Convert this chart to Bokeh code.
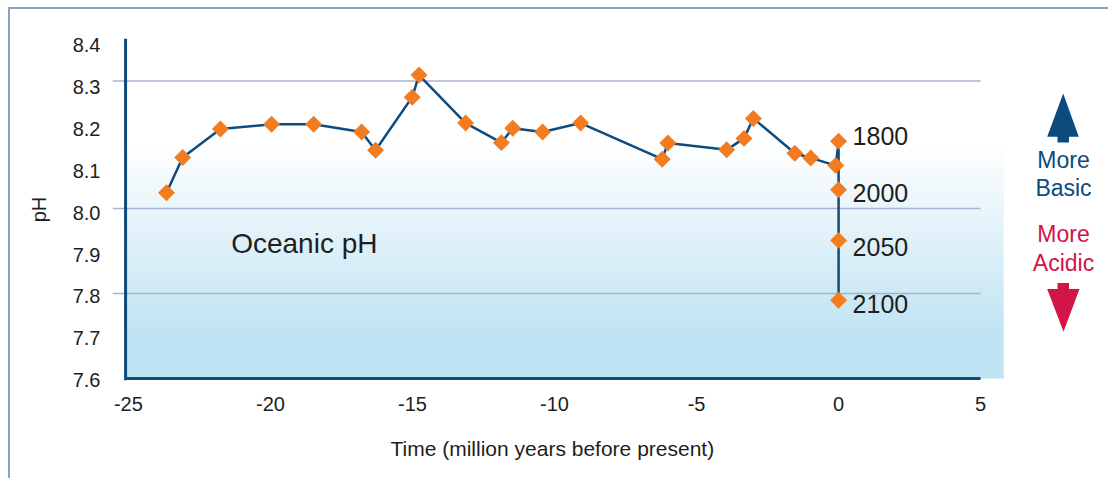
import numpy as np
from bokeh.plotting import figure
from bokeh.models import Range1d, FixedTicker, PrintfTickFormatter, ColumnDataSource, Title, LinearAxis
from bokeh.core.properties import value
from bokeh.embed import file_html
from bokeh.resources import INLINE

# ---------------- data ----------------
paleo_time = [-23.66, -23.09, -21.76, -19.96, -18.48, -16.79, -16.30, -15.01, -14.77,
              -13.13, -11.87, -11.47, -10.42, -9.08, -6.21, -6.01, -3.94, -3.33, -3.00,
              -1.54, -0.98, -0.10]
paleo_ph = [8.037, 8.120, 8.187, 8.198, 8.198, 8.180, 8.137, 8.262, 8.314,
            8.201, 8.155, 8.189, 8.180, 8.201, 8.116, 8.154, 8.138, 8.165, 8.212,
            8.130, 8.119, 8.101]
modern_years = ["1800", "2000", "2050", "2100"]
modern_time = [0, 0, 0, 0]
modern_ph = [8.158, 8.044, 7.925, 7.784]

x_ticks = [-25, -20, -15, -10, -5, 0, 5]
y_ticks = [7.6, 7.7, 7.8, 7.9, 8.0, 8.1, 8.2, 8.3, 8.4]
grid_levels = [8.3, 8.0, 7.8]

# ---------------- style ----------------
FONT = "Liberation Sans"
TXT = "#1e1e1e"
NAVY = "#0d4b7e"
ORANGE = "#f47c20"
CRIMSON = "#d31446"
GRID = "#a6b4cf"

W, H = 1100, 471
p = figure(width=W, height=H, output_backend="svg", toolbar_location=None,
           x_range=Range1d(-25.56, 9.22), y_range=Range1d(7.5953, 8.4),
           y_axis_location=None,
           min_border_left=102, min_border_right=10, min_border_top=29, min_border_bottom=98)
p.extra_y_ranges = {"ylab": Range1d(7.599, 8.4166), "pxy": Range1d(382, 38)}
p.extra_x_ranges = {"pxx": Range1d(112, 1100)}
p.outline_line_color = None
p.grid.grid_line_color = None
p.background_fill_color = "white"
p.border_fill_color = "white"
p.styles = {"border-top": "2px solid #88a4c4", "border-left": "2px solid #88a4c4",
            "margin-left": "8px", "margin-top": "7px"}

# gradient background
N = 400
ys = 7.6 + (np.arange(N) + 0.5) * (0.8 / N)
f = np.clip((8.15 - ys) / 0.45, 0, 1)
img = np.empty((N, 2), dtype=np.uint32)
view = img.view(dtype=np.uint8).reshape((N, 2, 4))
for j in range(2):
    view[:, j, 0] = (255 - f * (255 - 192)).astype(np.uint8)
    view[:, j, 1] = (255 - f * (255 - 228)).astype(np.uint8)
    view[:, j, 2] = (255 - f * (255 - 243)).astype(np.uint8)
    view[:, j, 3] = 255
p.image_rgba(image=[img], x=-25.1, y=7.6, dw=30.91, dh=0.8)

# grid lines
p.segment(x0=[-25.56] * len(grid_levels), x1=[5.0] * len(grid_levels),
          y0=grid_levels, y1=grid_levels, line_color=GRID, line_width=1.5)

# axis lines
p.segment(x0=[-25.1, -25.1], y0=[7.5953, 7.6], x1=[-25.1, 5.0], y1=[8.4, 7.6],
          line_color=NAVY, line_width=3)

# series
all_t = paleo_time + modern_time
all_ph = paleo_ph + modern_ph
p.line(all_t, all_ph, line_color="#0e4c80", line_width=2.5)
p.scatter(all_t, all_ph, marker="square", size=12, angle=np.pi / 4,
          fill_color=ORANGE, line_color=None)

# year labels
ysrc = ColumnDataSource(dict(x=modern_time, y=modern_ph, text=modern_years, dy=[-5, 3, 7, 4]))
p.text(x="x", y="y", text="text", source=ysrc, x_offset=14, y_offset="dy",
       text_font=value(FONT), text_font_size="25px", text_color=TXT,
       text_align="left", text_baseline="middle")

# chart label
p.text(x=[230.7], y=[244], text=["Oceanic pH"], x_range_name="pxx", y_range_name="pxy",
       text_font=value(FONT), text_font_size="28px", text_color=TXT,
       text_align="left", text_baseline="alphabetic")

# right-side annotation
p.patch(x=[1062.7, 1078.3, 1068.5, 1068.5, 1057, 1057, 1046.7],
        y=[93.3, 136.7, 136.7, 142.7, 142.7, 136.7, 136.7],
        x_range_name="pxx", y_range_name="pxy", fill_color=NAVY, line_color=None)
p.patch(x=[1057, 1068.5, 1068.5, 1079, 1063, 1046.7, 1057],
        y=[284, 284, 290, 290, 333, 290, 290],
        x_range_name="pxx", y_range_name="pxy", fill_color=CRIMSON, line_color=None)
p.text(x=[1063, 1063], y=[160, 188], text=["More", "Basic"], x_range_name="pxx", y_range_name="pxy",
       text_font=value(FONT), text_font_size="23px", text_color=NAVY,
       text_align="center", text_baseline="middle")
p.text(x=[1063, 1063], y=[235, 264], text=["More", "Acidic"], x_range_name="pxx", y_range_name="pxy",
       text_font=value(FONT), text_font_size="23px", text_color=CRIMSON,
       text_align="center", text_baseline="middle")

# x axis
xa = p.xaxis[0]
xa.ticker = FixedTicker(ticks=x_ticks)
xa.formatter = PrintfTickFormatter(format="%d")
xa.axis_line_color = None
xa.major_tick_out = 0
xa.major_tick_in = 0
xa.minor_tick_out = 0
xa.minor_tick_in = 0
xa.major_label_standoff = 16
xa.major_label_text_font = FONT
xa.major_label_text_font_size = "20px"
xa.major_label_text_color = TXT

# y axis
ya = LinearAxis(y_range_name="ylab", ticker=FixedTicker(ticks=y_ticks),
                formatter=PrintfTickFormatter(format="%.1f"))
ya.axis_line_color = None
ya.major_tick_out = 0
ya.major_tick_in = 0
ya.minor_tick_out = 0
ya.minor_tick_in = 0
ya.major_label_standoff = 12
ya.major_label_text_font = FONT
ya.major_label_text_font_size = "20px"
ya.major_label_text_color = TXT
ya.axis_label = "pH"
ya.axis_label_standoff = 20
ya.axis_label_text_font = FONT
ya.axis_label_text_font_size = "20px"
ya.axis_label_text_font_style = "normal"
ya.axis_label_text_color = TXT
p.add_layout(ya, "left")

p.add_layout(Title(text="Time (million years before present)", align="left", offset=278,
                   text_font=FONT, text_font_size="21px", text_font_style="normal",
                   text_color=TXT, standoff=42), "below")

open("out.html", "w").write(file_html(p, INLINE))
